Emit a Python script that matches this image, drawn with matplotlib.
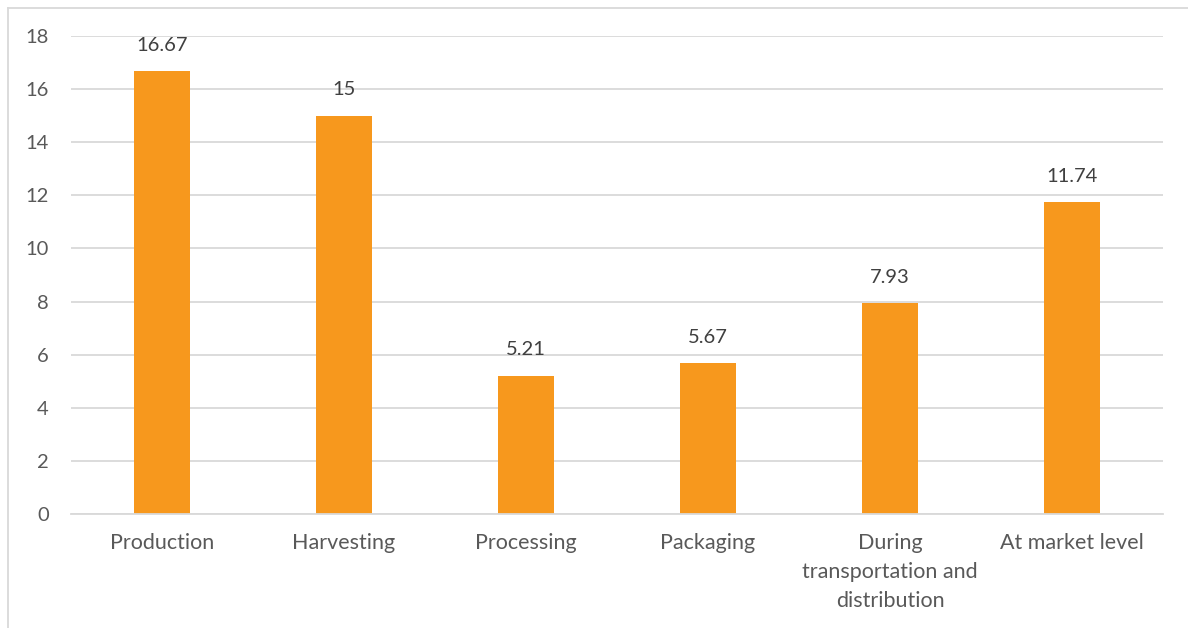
import matplotlib.pyplot as plt
from matplotlib.lines import Line2D

stages = ["Production", "Harvesting", "Processing", "Packaging",
          "During\ntransportation and\ndistribution", "At market level"]
losses = [16.67, 15, 5.21, 5.67, 7.93, 11.74]
value_labels = ["16.67", "15", "5.21", "5.67", "7.93", "11.74"]
yticks = [0, 2, 4, 6, 8, 10, 12, 14, 16, 18]

plt.rcParams['font.family'] = ['Lato', 'DejaVu Sans']

fig = plt.figure(figsize=(11.88, 6.28), dpi=100)
ax = fig.add_axes([71/1188, 1 - 514/628, (1163-71)/1188, (514-36)/628])

x = list(range(len(stages)))
bars = ax.bar(x, losses, width=0.31, color="#F7981D", zorder=3)
ax.bar_label(bars, labels=value_labels, padding=12.5, fontsize=14.5, color="#404040")

ax.set_xlim(-0.5, len(stages) - 0.5)
ax.set_ylim(0, 18)
ax.set_yticks(yticks)
ax.set_yticklabels([str(v) for v in yticks], fontsize=14.5)
ax.set_xticks(x)
ax.set_xticklabels(stages, linespacing=1.55, fontsize=15.5)
ax.tick_params(axis='both', length=0, labelcolor="#595959")
ax.tick_params(axis='y', pad=16)
ax.tick_params(axis='x', pad=14)
ax.grid(axis='y', color="#D9D9D9", linewidth=1.3, zorder=0)
for s in ["top", "right", "left"]:
    ax.spines[s].set_visible(False)
ax.spines["bottom"].set_color("#D9D9D9")
ax.spines["bottom"].set_linewidth(1.3)
ax.spines["bottom"].set_zorder(4)

# outer chart frame (only top and left visible in the crop)
fig.add_artist(Line2D([8/1188, 8/1188], [0, 1 - 8/628], color="#D9D9D9", lw=1.3))
fig.add_artist(Line2D([8/1188, 1], [1 - 8/628, 1 - 8/628], color="#D9D9D9", lw=1.3))

fig.savefig("out.png", dpi=100)
